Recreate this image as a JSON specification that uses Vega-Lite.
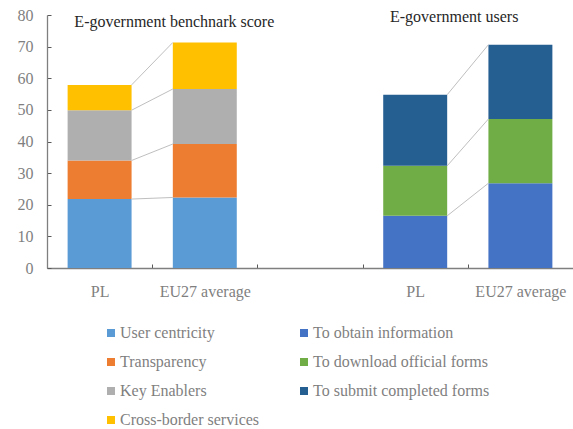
{
  "$schema": "https://vega.github.io/schema/vega-lite/v6.json",
  "autosize": "none",
  "width": 526,
  "height": 253,
  "padding": {"left": 47, "top": 15, "right": 0, "bottom": 161},
  "background": "white",
  "config": {
    "view": {"stroke": null},
    "axis": {"labelFont": "Liberation Serif", "labelFontSize": 16, "labelColor": "#7F7F7F", "labelOverlap": false, "grid": false}
  },
  "datasets": {
    "bars": [
      {"cat": "PL", "series": "User centricity", "value": 21.8},
      {"cat": "PL", "series": "Transparency", "value": 12.2},
      {"cat": "PL", "series": "Key Enablers", "value": 15.9},
      {"cat": "PL", "series": "Cross-border services", "value": 8.0},
      {"cat": "EU27 average", "series": "User centricity", "value": 22.3},
      {"cat": "EU27 average", "series": "Transparency", "value": 16.9},
      {"cat": "EU27 average", "series": "Key Enablers", "value": 17.4},
      {"cat": "EU27 average", "series": "Cross-border services", "value": 14.7},
      {"cat": "PL ", "series": "To obtain information", "value": 16.5},
      {"cat": "PL ", "series": "To download official forms", "value": 15.8},
      {"cat": "PL ", "series": "To submit completed forms", "value": 22.5},
      {"cat": "EU27 average ", "series": "To obtain information", "value": 26.8},
      {"cat": "EU27 average ", "series": "To download official forms", "value": 20.3},
      {"cat": "EU27 average ", "series": "To submit completed forms", "value": 23.5}
    ],
    "links": [
      {"from": "PL", "to": "EU27 average", "a": 21.8, "b": 22.3},
      {"from": "PL", "to": "EU27 average", "a": 34.0, "b": 39.2},
      {"from": "PL", "to": "EU27 average", "a": 49.9, "b": 56.6},
      {"from": "PL", "to": "EU27 average", "a": 57.9, "b": 71.3},
      {"from": "PL ", "to": "EU27 average ", "a": 16.5, "b": 26.8},
      {"from": "PL ", "to": "EU27 average ", "a": 32.3, "b": 47.1},
      {"from": "PL ", "to": "EU27 average ", "a": 54.8, "b": 70.6}
    ],
    "titles": [
      {"cat": "PL", "label": "E-government benchnark score", "y": 77.9},
      {"cat": "PL ", "label": "E-government users", "y": 79.5}
    ]
  },
  "layer": [
    {
      "data": {"name": "bars"},
      "transform": [
        {"calculate": "indexof(['User centricity','Transparency','Key Enablers','Cross-border services','To obtain information','To download official forms','To submit completed forms'], datum.series)", "as": "stackOrder"}
      ],
      "mark": {"type": "bar", "width": {"band": 0.608}},
      "encoding": {
        "x": {
          "field": "cat",
          "type": "nominal",
          "scale": {"domain": ["PL", "EU27 average", "gap", "PL ", "EU27 average "], "paddingInner": 0, "paddingOuter": 0},
          "axis": {
            "title": null,
            "labelAngle": 0,
            "labelExpr": "datum.label == 'gap' ? '' : trim(datum.label)",
            "tickBand": "extent",
            "tickSize": -4,
            "tickColor": "#595959",
            "domainColor": "#7F7F7F",
            "domainWidth": 1.3,
            "labelFont": "Liberation Serif",
            "labelFontSize": 16,
            "labelColor": "#7F7F7F",
            "labelPadding": 19
          }
        },
        "y": {
          "field": "value",
          "type": "quantitative",
          "stack": "zero",
          "scale": {"domain": [0, 80], "nice": false},
          "axis": {
            "title": null,
            "values": [0, 10, 20, 30, 40, 50, 60, 70, 80],
            "grid": false,
            "labelOverlap": false,
            "tickSize": -4,
            "tickColor": "#595959",
            "domainColor": "#7F7F7F",
            "domainWidth": 1.3,
            "labelFont": "Liberation Serif",
            "labelFontSize": 16,
            "labelColor": "#7F7F7F",
            "labelPadding": 18
          }
        },
        "order": {"field": "stackOrder", "type": "quantitative", "sort": "ascending"},
        "color": {
          "field": "series",
          "type": "nominal",
          "scale": {
            "domain": ["User centricity", "To obtain information", "Transparency", "To download official forms", "Key Enablers", "To submit completed forms", "Cross-border services"],
            "range": ["#5B9BD5", "#4472C4", "#ED7D31", "#70AD47", "#AFAFAF", "#255E91", "#FFC000"]
          },
          "legend": {
            "title": null,
            "orient": "none",
            "legendX": 56,
            "legendY": 310,
            "columns": 2,
            "direction": "horizontal",
            "columnPadding": 36,
            "rowPadding": 13,
            "symbolType": "square",
            "symbolSize": 64,
            "symbolStrokeWidth": 0,
            "labelFont": "Liberation Serif",
            "labelFontSize": 16,
            "labelColor": "#7F7F7F",
            "labelOffset": 1,
            "labelLimit": 300
          }
        }
      }
    },
    {
      "data": {"name": "links"},
      "mark": {"type": "rule", "color": "#BFBFBF", "strokeWidth": 1, "xOffset": 32, "x2Offset": -32},
      "encoding": {
        "x": {
          "field": "from",
          "type": "nominal",
          "bandPosition": 0.5,
          "axis": {
            "title": null,
            "labelAngle": 0,
            "labelExpr": "datum.label == 'gap' ? '' : trim(datum.label)",
            "tickBand": "extent",
            "tickSize": -4,
            "tickColor": "#595959",
            "domainColor": "#7F7F7F",
            "domainWidth": 1.3,
            "labelFont": "Liberation Serif",
            "labelFontSize": 16,
            "labelColor": "#7F7F7F",
            "labelPadding": 19
          }
        },
        "x2": {"field": "to"},
        "y": {
          "field": "a",
          "type": "quantitative",
          "axis": {
            "title": null,
            "values": [0, 10, 20, 30, 40, 50, 60, 70, 80],
            "grid": false,
            "labelOverlap": false,
            "tickSize": -4,
            "tickColor": "#595959",
            "domainColor": "#7F7F7F",
            "domainWidth": 1.3,
            "labelFont": "Liberation Serif",
            "labelFontSize": 16,
            "labelColor": "#7F7F7F",
            "labelPadding": 18
          }
        },
        "y2": {"field": "b"}
      }
    },
    {
      "data": {"name": "titles"},
      "mark": {"type": "text", "align": "left", "baseline": "middle", "fontSize": 16, "font": "Liberation Serif", "color": "#262626"},
      "encoding": {
        "x": {
          "field": "cat",
          "type": "nominal",
          "bandPosition": 0.26,
          "axis": {
            "title": null,
            "labelAngle": 0,
            "labelExpr": "datum.label == 'gap' ? '' : trim(datum.label)",
            "tickBand": "extent",
            "tickSize": -4,
            "tickColor": "#595959",
            "domainColor": "#7F7F7F",
            "domainWidth": 1.3,
            "labelFont": "Liberation Serif",
            "labelFontSize": 16,
            "labelColor": "#7F7F7F",
            "labelPadding": 19
          }
        },
        "y": {
          "field": "y",
          "type": "quantitative",
          "axis": {
            "title": null,
            "values": [0, 10, 20, 30, 40, 50, 60, 70, 80],
            "grid": false,
            "labelOverlap": false,
            "tickSize": -4,
            "tickColor": "#595959",
            "domainColor": "#7F7F7F",
            "domainWidth": 1.3,
            "labelFont": "Liberation Serif",
            "labelFontSize": 16,
            "labelColor": "#7F7F7F",
            "labelPadding": 18
          }
        },
        "text": {"field": "label"}
      }
    }
  ]
}
